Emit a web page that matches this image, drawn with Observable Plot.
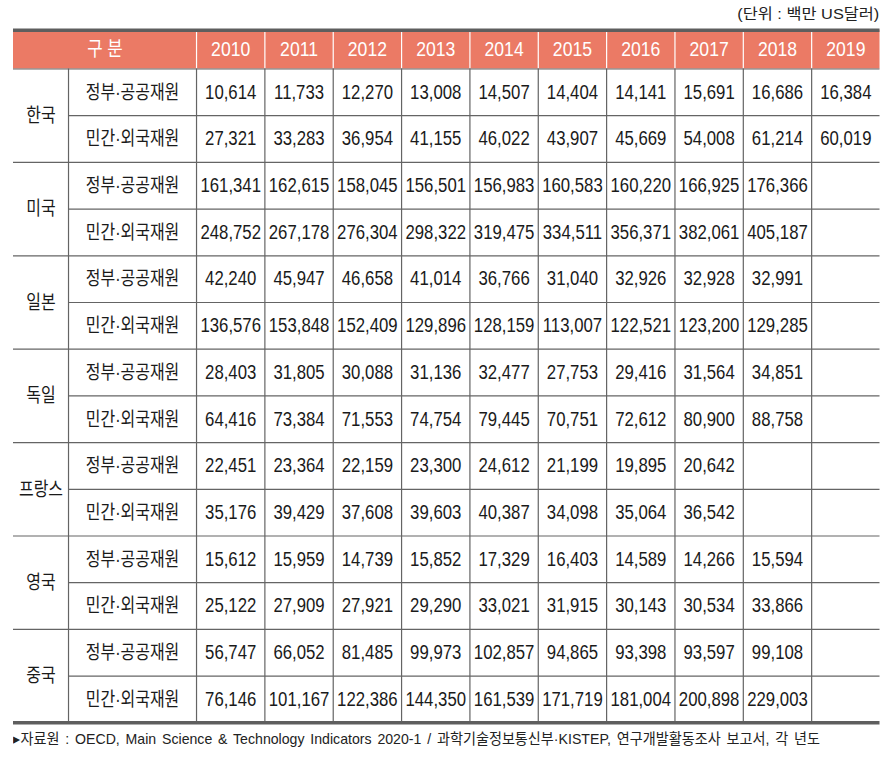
<!DOCTYPE html>
<html><head><meta charset="utf-8">
<script src="https://cdn.jsdelivr.net/npm/d3@7"></script>
<script src="https://cdn.jsdelivr.net/npm/@observablehq/plot@0.6"></script>
<style>
body{margin:0;background:#fff;width:896px;height:766px;overflow:hidden;font-family:"Liberation Sans","Noto Sans CJK KR",sans-serif;}
#unit{height:26px;position:relative;}
#unit span{position:absolute;right:17px;top:4px;font-size:15px;line-height:20px;color:#222;white-space:nowrap;transform-origin:right center;}
#cap{position:relative;height:40px;}
#cap span{position:absolute;left:13px;top:3px;font-size:15px;line-height:20px;color:#222;white-space:nowrap;word-spacing:2px;transform-origin:left center;}
#chart svg{display:block}
</style></head>
<body>
<div id="unit"><span id="unitText"></span></div>
<div id="chart"></div>
<div id="cap"><span id="capText"></span></div>
<script>
// ---- data ----
const countries = ["한국","미국","일본","독일","프랑스","영국","중국"];
const categories = ["정부·공공재원","민간·외국재원"];
const years = [2010,2011,2012,2013,2014,2015,2016,2017,2018,2019];
const headerLabel = "구 분";
const unitLabel = "(단위 : 백만 US달러)";
const sourceNote = "▸자료원 : OECD, Main Science & Technology Indicators 2020-1 / 과학기술정보통신부·KISTEP, 연구개발활동조사 보고서, 각 년도";

const koreaGov  = [10614,11733,12270,13008,14507,14404,14141,15691,16686,16384];
const koreaPriv = [27321,33283,36954,41155,46022,43907,45669,54008,61214,60019];
const usaGov    = [161341,162615,158045,156501,156983,160583,160220,166925,176366];
const usaPriv   = [248752,267178,276304,298322,319475,334511,356371,382061,405187];
const japanGov  = [42240,45947,46658,41014,36766,31040,32926,32928,32991];
const japanPriv = [136576,153848,152409,129896,128159,113007,122521,123200,129285];
const germanyGov  = [28403,31805,30088,31136,32477,27753,29416,31564,34851];
const germanyPriv = [64416,73384,71553,74754,79445,70751,72612,80900,88758];
const franceGov   = [22451,23364,22159,23300,24612,21199,19895,20642];
const francePriv  = [35176,39429,37608,39603,40387,34098,35064,36542];
const ukGov   = [15612,15959,14739,15852,17329,16403,14589,14266,15594];
const ukPriv  = [25122,27909,27921,29290,33021,31915,30143,30534,33866];
const chinaGov  = [56747,66052,81485,99973,102857,94865,93398,93597,99108];
const chinaPriv = [76146,101167,122386,144350,161539,171719,181004,200898,229003];

const series = [
  [koreaGov, koreaPriv], [usaGov, usaPriv], [japanGov, japanPriv],
  [germanyGov, germanyPriv], [franceGov, francePriv], [ukGov, ukPriv], [chinaGov, chinaPriv]
];

// ---- layout (column widths in year-column units) ----
const colUnits = [0.805, 1.873, ...years.map(() => 1)];
const edges = [0];
colUnits.forEach(w => edges.push(edges[edges.length - 1] + w));
const totalW = edges[edges.length - 1];
const headH = 0.831;
const nRows = countries.length * categories.length;
const mid = (a, b) => (a + b) / 2;

const fmt = d3.format(",");

// cells
const valueCells = [];
series.forEach((pair, c) => pair.forEach((vals, k) => vals.forEach((v, j) => {
  if (v != null) valueCells.push({x: mid(edges[2 + j], edges[3 + j]), y: 2 * c + k + 0.5, label: fmt(v)});
})));
const categoryCells = countries.flatMap((_, c) => categories.map((cat, k) => ({x: mid(edges[1], edges[2]), y: 2 * c + k + 0.5, label: cat})));
const countryCells = countries.map((name, c) => ({x: mid(edges[0], edges[1]), y: 2 * c + 1, label: name}));
const headerCells = [{x: mid(edges[0], edges[2]), y: -headH / 2, label: headerLabel},
  ...years.map((yr, j) => ({x: mid(edges[2 + j], edges[3 + j]), y: -headH / 2, label: String(yr)}))];

const hLines = d3.range(1, nRows).map(r => ({y: r, x1: r % 2 === 0 ? edges[0] : edges[1], x2: totalW}));
hLines.push({y: 0, x1: 0, x2: totalW});
const vBody = d3.range(1, edges.length - 1).map(i => ({x: edges[i]}));
const vHead = d3.range(2, edges.length - 1).map(i => ({x: edges[i]}));

const lineColor = "#646464";
const font = "Liberation Sans, Noto Sans CJK KR, sans-serif";

const svg = Plot.plot({
  width: 896, height: 700,
  marginLeft: 13, marginRight: 16.5, marginTop: 3.7, marginBottom: 3.7,
  x: {type: "linear", domain: [0, totalW], axis: null},
  y: {type: "linear", domain: [-headH, nRows], reverse: true, axis: null},
  style: {background: "white", fontFamily: font, overflow: "visible"},
  marks: [
    Plot.rect([{}], {x1: 0, x2: totalW, y1: -headH, y2: 0, fill: "#EB7A65"}),
    Plot.ruleX(vHead, {x: "x", y1: -headH, y2: 0, stroke: "white", strokeWidth: 1.2}),
    Plot.ruleX(vBody, {x: "x", y1: 0, y2: nRows, stroke: lineColor, strokeWidth: 1.2}),
    Plot.ruleY(hLines, {y: "y", x1: "x1", x2: "x2", stroke: lineColor, strokeWidth: 1.2}),
    Plot.ruleY([-headH, nRows], {y: d => d, x1: 0, x2: totalW, stroke: "#5e5e5e", strokeWidth: 3.5}),
    Plot.text(headerCells, {x: "x", y: "y", text: "label", fill: "white", fontSize: 20.5, fontFamily: font}),
    Plot.text(countryCells, {x: "x", y: "y", text: "label", fill: "#1a1a1a", fontSize: 19.5, fontFamily: font}),
    Plot.text(categoryCells, {x: "x", y: "y", text: "label", fill: "#1a1a1a", fontSize: 19.5, fontFamily: font}),
    Plot.text(valueCells, {x: "x", y: "y", text: "label", fill: "#1a1a1a", fontSize: 19.5, fontFamily: font})
  ]
});

// horizontal squeeze of glyphs (the reference typeface is narrow)
svg.querySelectorAll("text").forEach(t => {
  let tr = t.getAttribute("transform");
  if (!tr) {
    const x = parseFloat(t.getAttribute("x")) || 0, y = parseFloat(t.getAttribute("y")) || 0;
    t.removeAttribute("x"); t.removeAttribute("y");
    tr = `translate(${x},${y})`;
  }
  const sx = /[\uAC00-\uD7A3]/.test(t.textContent) ? 0.82 : 0.86;
  t.setAttribute("transform", tr + ` scale(${sx},1)`);
});
document.getElementById("chart").appendChild(svg);

const u = document.getElementById("unitText");
u.textContent = unitLabel;
const c = document.getElementById("capText");
c.textContent = sourceNote;
function fit(el, target) {
  const w = el.getBoundingClientRect().width;
  if (w > 0) el.style.transform = `scaleX(${target / w})`;
}
fit(u, 142);
fit(c, 807);
</script>
</body></html>
